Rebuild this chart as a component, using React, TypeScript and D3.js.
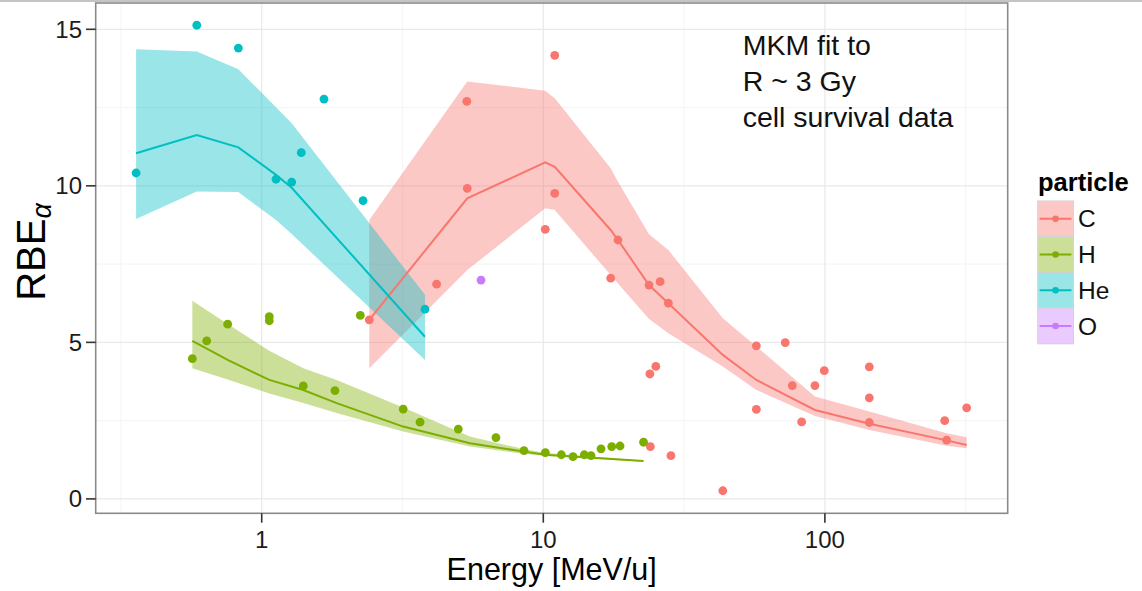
import React from "react";
import * as d3 from "d3";

// ---- measured points (energy in MeV/u, RBE_alpha) ----
const cEnergy = [2.41, 4.18, 5.35, 5.37, 10.16, 10.98, 10.98, 17.35, 18.42, 23.74, 26.0, 27.8, 23.9, 25.1, 24.0, 28.4, 43.4, 57.1, 57.1, 72.3, 76.6, 82.7, 92.2, 99.5, 143.8, 143.8, 143.8, 266.4, 270.7, 318.8];
const cRbe = [5.72, 6.86, 12.7, 9.92, 8.61, 14.17, 9.76, 7.05, 8.27, 6.83, 6.94, 6.25, 3.99, 4.23, 1.67, 1.38, 0.26, 4.89, 2.86, 4.99, 3.62, 2.46, 3.62, 4.1, 4.22, 3.23, 2.44, 2.5, 1.88, 2.91];

const hEnergy = [0.567, 0.638, 0.757, 1.064, 1.064, 2.24, 1.405, 1.82, 3.18, 3.65, 4.99, 6.79, 8.54, 10.17, 11.59, 12.75, 13.98, 14.77, 16.03, 17.5, 18.73, 22.7];
const hRbe = [4.48, 5.05, 5.58, 5.82, 5.69, 5.86, 3.61, 3.46, 2.87, 2.45, 2.23, 1.96, 1.54, 1.48, 1.41, 1.35, 1.41, 1.38, 1.6, 1.67, 1.69, 1.81];

const heEnergy = [0.358, 0.588, 0.826, 1.124, 1.278, 1.382, 1.664, 2.29, 3.8];
const heRbe = [10.41, 15.13, 14.4, 10.21, 10.12, 11.06, 12.77, 9.53, 6.06];

const oEnergy = [6.01];
const oRbe = [6.99];

// ---- MKM fit with uncertainty band ----
const cFitEnergy = [2.41, 5.37, 10.16, 10.98, 17.35, 18.42, 23.74, 27.8, 43.4, 57.1, 92.2, 143.8, 270.7, 318.8];
const cFit = [5.72, 9.6, 10.75, 10.61, 8.59, 8.27, 6.83, 6.25, 4.6, 3.8, 2.84, 2.4, 1.87, 1.72];
const cFitHigh = [8.91, 13.33, 13.04, 12.8, 10.56, 10.13, 8.45, 7.95, 5.77, 4.87, 3.27, 2.79, 2.1, 1.97];
const cFitLow = [4.17, 7.31, 9.28, 9.23, 7.15, 6.88, 5.75, 5.29, 4.23, 3.48, 2.65, 2.2, 1.7, 1.62];

const hFitEnergy = [0.567, 0.757, 1.064, 1.405, 1.846, 3.18, 5.49, 8.54, 10.17, 22.7];
const hFit = [5.05, 4.44, 3.8, 3.48, 3.06, 2.31, 1.78, 1.51, 1.41, 1.21];
const hFitHigh = [6.33, 5.59, 4.73, 4.17, 3.8, 2.92, 1.99, 1.59, 1.47, 1.23];
const hFitLow = [4.17, 3.81, 3.37, 3.06, 2.74, 2.15, 1.67, 1.44, 1.37, 1.19];

const heFitEnergy = [0.358, 0.588, 0.826, 1.124, 1.278, 3.8];
const heFit = [11.04, 11.62, 11.23, 10.35, 9.94, 5.18];
const heFitHigh = [14.36, 14.29, 13.72, 12.51, 12.0, 6.52];
const heFitLow = [8.94, 9.82, 9.8, 8.91, 8.46, 4.44];

const particles = ["C", "H", "He", "O"];
const particleColors = ["#F8766D", "#7CAE00", "#00BFC4", "#C77CFF"];

const xTicks = [1, 10, 100];
const xMinor = [Math.pow(10, -0.5), Math.pow(10, 0.5), Math.pow(10, 1.5), Math.pow(10, 2.5)];
const yTicks = [0, 5, 10, 15];
const yMinor = [2.5, 7.5, 12.5];

const noteLines = ["MKM fit to", "R ~ 3 Gy", "cell survival data"];

const W = 1142;
const H = 591;
const panel = { left: 95.7, right: 1007.7, top: 3, bottom: 513.3 };

const x = d3.scaleLog().domain([0.2573, 445.9]).range([panel.left, panel.right]);
const y = d3.scaleLinear().domain([-0.46, 15.84]).range([panel.bottom, panel.top]);

type Pt = { e: number; v: number };
type Band = { e: number; v: number; lo: number; hi: number };

const zipPts = (es: number[], vs: number[]): Pt[] => es.map((e, i) => ({ e, v: vs[i] }));
const zipBand = (es: number[], vs: number[], lo: number[], hi: number[]): Band[] =>
  es.map((e, i) => ({ e, v: vs[i], lo: lo[i], hi: hi[i] }));

const points: Pt[][] = [
  zipPts(cEnergy, cRbe),
  zipPts(hEnergy, hRbe),
  zipPts(heEnergy, heRbe),
  zipPts(oEnergy, oRbe),
];

const bands: (Band[] | null)[] = [
  zipBand(cFitEnergy, cFit, cFitLow, cFitHigh),
  zipBand(hFitEnergy, hFit, hFitLow, hFitHigh),
  zipBand(heFitEnergy, heFit, heFitLow, heFitHigh),
  null,
];

const area = d3
  .area<Band>()
  .x((d) => x(d.e))
  .y0((d) => y(d.lo))
  .y1((d) => y(d.hi));
const line = d3
  .line<Band>()
  .x((d) => x(d.e))
  .y((d) => y(d.v));

const FONT = "'Liberation Sans', Arial, Helvetica, sans-serif";
const BAND_ALPHA = 0.4;

export default function App() {
  const legendX = 1037.7;
  const legendY = 201;
  const keySize = 35.7;
  return (
    <div style={{ position: "fixed", left: 0, top: 0 }}>
      <svg width={W} height={H} style={{ display: "block", background: "#fff" }} fontFamily={FONT}>
        <rect x={0} y={0} width={W} height={H} fill="#fff" />
        <line x1={0} x2={W} y1={1} y2={1} stroke="#c4c4c4" strokeWidth={2} />

        {/* panel grid */}
        {yMinor.map((t) => (
          <line key={"ym" + t} x1={panel.left} x2={panel.right} y1={y(t)} y2={y(t)} stroke="#f6f6f6" strokeWidth={1.2} />
        ))}
        {xMinor.map((t) => (
          <line key={"xm" + t} x1={x(t)} x2={x(t)} y1={panel.top} y2={panel.bottom} stroke="#f6f6f6" strokeWidth={1.2} />
        ))}
        {yTicks.map((t) => (
          <line key={"yg" + t} x1={panel.left} x2={panel.right} y1={y(t)} y2={y(t)} stroke="#e9e9e9" strokeWidth={1.2} />
        ))}
        {xTicks.map((t) => (
          <line key={"xg" + t} x1={x(t)} x2={x(t)} y1={panel.top} y2={panel.bottom} stroke="#e9e9e9" strokeWidth={1.2} />
        ))}

        {/* fit uncertainty ribbons */}
        {bands.map((b, i) =>
          b ? <path key={"band" + i} d={area(b) || ""} fill={particleColors[i]} fillOpacity={BAND_ALPHA} /> : null
        )}
        {/* fit lines */}
        {bands.map((b, i) =>
          b ? (
            <path key={"line" + i} d={line(b) || ""} fill="none" stroke={particleColors[i]} strokeWidth={2} />
          ) : null
        )}
        {/* measured points */}
        {points.map((ps, i) =>
          ps.map((p, j) => (
            <circle key={"p" + i + "-" + j} cx={x(p.e)} cy={y(p.v)} r={4.4} fill={particleColors[i]} />
          ))
        )}

        {/* annotation */}
        <text x={742.7} y={55} fontSize={28.5} fill="#111">
          {noteLines.map((l, i) => (
            <tspan key={l} x={742.7} y={55 + i * 35.8}>
              {l}
            </tspan>
          ))}
        </text>

        {/* panel border */}
        <rect
          x={panel.left}
          y={panel.top}
          width={panel.right - panel.left}
          height={panel.bottom - panel.top}
          fill="none"
          stroke="#8a8a8a"
          strokeWidth={1.6}
        />

        {/* y axis */}
        {yTicks.map((t) => (
          <g key={"yt" + t}>
            <line x1={86} x2={panel.left} y1={y(t)} y2={y(t)} stroke="#333" strokeWidth={1.6} />
            <text x={82} y={y(t) + 8.5} fontSize={24} textAnchor="end" fill="#1c1c1c">
              {t}
            </text>
          </g>
        ))}
        {/* x axis */}
        {xTicks.map((t) => (
          <g key={"xt" + t}>
            <line x1={x(t)} x2={x(t)} y1={panel.bottom} y2={522.7} stroke="#333" strokeWidth={1.6} />
            <text x={x(t)} y={547.5} fontSize={24} textAnchor="middle" fill="#1c1c1c">
              {t}
            </text>
          </g>
        ))}

        <text x={(panel.left + panel.right) / 2} y={579.5} fontSize={30.5} textAnchor="middle" fill="#000">
          Energy [MeV/u]
        </text>
        <text transform="translate(45,252) rotate(-90)" fontSize={40} textAnchor="middle" fill="#000">
          RBE
          <tspan fontSize={27} fontStyle="italic" dy={6}>
            α
          </tspan>
        </text>

        {/* legend */}
        <text x={1038} y={191} fontSize={25.5} fontWeight="bold" fill="#000">
          particle
        </text>
        {particles.map((p, i) => {
          const ky = legendY + i * keySize;
          const cy = ky + keySize / 2;
          return (
            <g key={"lg" + p}>
              <rect x={legendX} y={ky} width={keySize} height={keySize} fill="#fff" stroke="#cfcfcf" strokeWidth={1} />
              <rect x={legendX + 0.5} y={ky + 0.5} width={keySize - 1} height={keySize - 1} fill={particleColors[i]} fillOpacity={BAND_ALPHA} />
              <line x1={legendX + 2} x2={legendX + keySize - 2} y1={cy} y2={cy} stroke={particleColors[i]} strokeWidth={2} />
              <circle cx={legendX + keySize / 2} cy={cy} r={3.3} fill={particleColors[i]} />
              <text x={1078} y={cy + 8.6} fontSize={24.5} fill="#111">
                {p}
              </text>
            </g>
          );
        })}
      </svg>
    </div>
  );
}
